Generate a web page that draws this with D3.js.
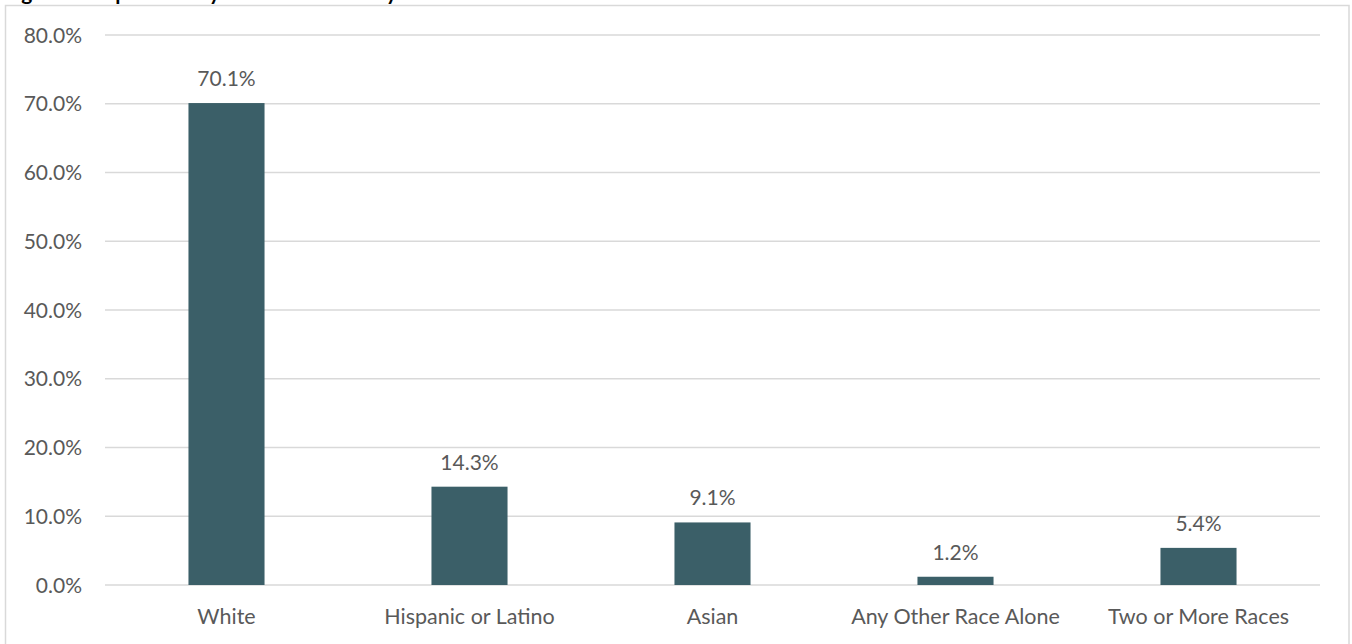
<!DOCTYPE html>
<html>
<head>
<meta charset="utf-8">
<script src="https://cdn.jsdelivr.net/npm/d3@7"></script>
<style>
  body { margin: 0; background: #fff; }
  svg { display: block; font-family: Lato, 'Open Sans', sans-serif; }
  .tick-label, .data-label { fill: #595959; font-size: 21px; }
  .cat-label { fill: #595959; font-size: 21.5px; }
  .grid line { stroke: #d9d9d9; stroke-width: 1.5; }
</style>
</head>
<body>
<div id="chart"></div>
<script>
const categories = ['White', 'Hispanic or Latino', 'Asian', 'Any Other Race Alone', 'Two or More Races'];
const shares = [70.1, 14.3, 9.1, 1.2, 5.4];
const yTicks = [0, 10, 20, 30, 40, 50, 60, 70, 80];
const title = 'Figure 3: Population by Race and Ethnicity';

const width = 1352;
const height = 644;
const plot = { left: 105, right: 1320, top: 35, bottom: 585 };

const svg = d3.select('#chart').append('svg')
    .attr('width', width)
    .attr('height', height);

// title sits mostly above the crop, only descenders show
svg.append('text')
    .attr('x', 4)
    .attr('y', 0)
    .style('font-weight', 700)
    .style('font-size', '21px')
    .attr('fill', '#000')
    .text(title);

svg.append('rect')
    .attr('x', 5.5)
    .attr('y', 5.5)
    .attr('width', 1343.5)
    .attr('height', 700)
    .attr('fill', 'none')
    .attr('stroke', '#d9d9d9')
    .attr('stroke-width', 1.5);

const data = categories.map((c, i) => ({ category: c, value: shares[i] }));

const xScale = d3.scaleBand()
    .domain(categories)
    .range([plot.left, plot.right])
    .paddingInner(0.687)
    .paddingOuter(0.687 / 2);

const yScale = d3.scaleLinear()
    .domain([0, 80])
    .range([plot.bottom, plot.top]);

const grid = svg.append('g').attr('class', 'grid');

grid.selectAll('line').data(yTicks)
  .enter().append('line')
    .attr('x1', plot.left)
    .attr('x2', plot.right)
    .attr('y1', d => yScale(d))
    .attr('y2', d => yScale(d));

const pct = d3.format('.1f');

svg.append('g').selectAll('text').data(yTicks)
  .enter().append('text')
    .attr('class', 'tick-label')
    .attr('x', 82)
    .attr('y', d => yScale(d))
    .attr('dy', '0.36em')
    .style('text-anchor', 'end')
    .text(d => pct(d) + '%');

svg.append('g').selectAll('rect').data(data)
  .enter().append('rect')
    .attr('x', d => xScale(d.category))
    .attr('y', d => yScale(d.value))
    .attr('width', xScale.bandwidth())
    .attr('height', d => yScale(0) - yScale(d.value))
    .attr('fill', '#3b5f68');

svg.append('g').selectAll('text').data(data)
  .enter().append('text')
    .attr('class', 'data-label')
    .attr('x', d => xScale(d.category) + xScale.bandwidth() / 2)
    .attr('y', d => yScale(d.value) - 17)
    .style('text-anchor', 'middle')
    .text(d => pct(d.value) + '%');

svg.append('g').selectAll('text').data(data)
  .enter().append('text')
    .attr('class', 'cat-label')
    .attr('x', d => xScale(d.category) + xScale.bandwidth() / 2)
    .attr('y', 624)
    .style('text-anchor', 'middle')
    .text(d => d.category);
</script>
</body>
</html>
